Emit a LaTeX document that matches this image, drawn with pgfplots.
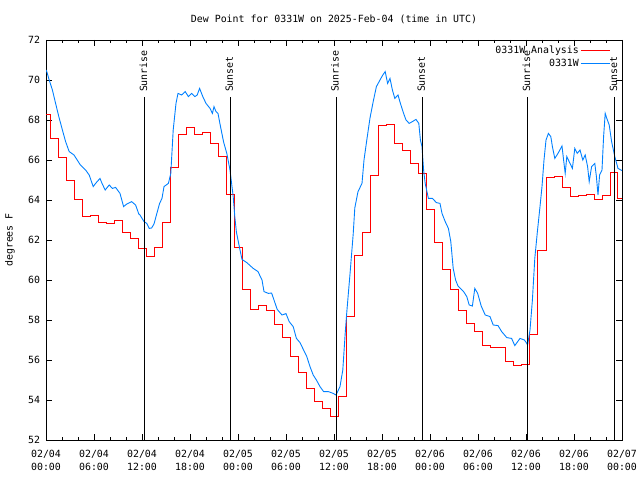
\documentclass[border=0pt]{standalone}
\usepackage{pgfplots}
\pgfplotsset{compat=1.18}
\usepackage{fontspec}
\setmainfont{DejaVu Sans Mono}
\definecolor{anared}{RGB}{255,0,0}
\definecolor{obsblue}{RGB}{0,128,255}
\begin{document}
\fontsize{9.9bp}{13bp}\selectfont
\begin{tikzpicture}
\path[use as bounding box] (-46bp,-40bp) rectangle (594bp,440bp);
\begin{axis}[
  at={(0,0)}, anchor=south west,
  scale only axis, width=576bp, height=400bp,
  xmin=0, xmax=72, ymin=52, ymax=72,
  axis line style={line width=0.8bp},
  xtick={0,6,...,72},
  xticklabels={02/04\\00:00,02/04\\06:00,02/04\\12:00,02/04\\18:00,02/05\\00:00,02/05\\06:00,02/05\\12:00,02/05\\18:00,02/06\\00:00,02/06\\06:00,02/06\\12:00,02/06\\18:00,02/07\\00:00},
  minor x tick num=2,
  ytick={52,54,...,72},
  tick align=inside,
  major tick length=6bp, minor tick length=3bp,
  tick style={line width=0.8bp, black},
  xticklabel style={align=center, yshift=-6.5bp},
  yticklabel style={xshift=-2.5bp},
  /pgf/number format/assume math mode=true,
  ylabel={degrees F},
  every axis y label/.style={at={(axis description cs:-0.0625,0.5)},rotate=90,anchor=center},
  title={Dew Point for 0331W on 2025-Feb-04 (time in UTC)},
  every axis title/.style={at={(axis description cs:0.5,1.0525)},anchor=center},
  legend plot pos=right,
  legend cell align=right,
  legend image code/.code={\draw[#1] (4bp,0bp) -- (33bp,0bp);},
  legend style={draw=none, fill=none, at={(rel axis cs:0.98,0.99)}, anchor=north east,
    inner sep=0pt, row sep=1.5bp, nodes={inner sep=1.5bp}},
]
\addplot[anared, line width=0.9bp, const plot] coordinates {
(0,68.3) (0.6,67.1) (1.55,66.13) (2.6,65.0) (3.55,64.03) (4.6,63.2) (5.6,63.25) (6.6,62.9)
(7.6,62.83) (8.6,63.0) (9.6,62.38) (10.6,62.08) (11.6,61.58) (12.6,61.2) (13.6,61.65) (14.6,62.88)
(15.6,65.63) (16.6,67.27) (17.6,67.62) (18.55,67.3) (19.6,67.37) (20.6,66.83) (21.5,66.2) (22.6,64.3)
(23.55,61.65) (24.6,59.53) (25.6,58.53) (26.5,58.75) (27.6,58.47) (28.6,57.8) (29.6,57.13) (30.6,56.2)
(31.6,55.38) (32.6,54.58) (33.6,53.95) (34.6,53.58) (35.6,53.2) (36.5,54.2) (37.6,58.2) (38.6,61.25)
(39.6,62.38) (40.5,65.25) (41.6,67.75) (42.6,67.8) (43.5,66.83) (44.6,66.5) (45.5,65.83) (46.5,65.33)
(47.5,63.53) (48.5,61.88) (49.5,60.53) (50.5,59.55) (51.5,58.5) (52.5,57.83) (53.5,57.45) (54.6,56.75)
(55.5,56.63) (56.5,56.63) (57.4,55.92) (58.4,55.75) (59.4,55.8) (60.4,57.28) (61.4,61.48) (62.5,65.15)
(63.5,65.2) (64.5,64.63) (65.5,64.17) (66.5,64.22) (67.6,64.28) (68.5,64.05) (69.5,64.22) (70.5,65.37)
(71.4,64.07) (72,64.07)
};
\addlegendentry{0331W Analysis}
\addplot[obsblue, line width=0.9bp] coordinates {
(0.0,70.5) (0.1,70.42) (0.4,70.0) (0.8,69.5) (1.2,68.83) (1.6,68.17) (2.05,67.5) (2.45,66.92)
(2.9,66.42) (3.5,66.25) (3.9,66.0) (4.3,65.75) (4.95,65.5) (5.4,65.25) (5.9,64.67) (6.2,64.83)
(6.75,65.08) (7.0,64.83) (7.4,64.5) (7.9,64.75) (8.3,64.58) (8.7,64.63) (9.25,64.33) (9.7,63.67)
(10.1,63.8) (10.7,63.92) (11.2,63.75) (11.6,63.3) (11.75,63.25) (12.25,62.92) (12.6,62.83) (12.9,62.58)
(13.2,62.6) (13.5,62.8) (13.75,63.17) (14.2,63.83) (14.5,64.08) (14.75,64.67) (15.3,64.83) (15.6,65.33)
(15.9,67.5) (16.25,68.83) (16.5,69.33) (16.95,69.25) (17.4,69.42) (17.8,69.17) (18.2,69.33) (18.6,69.17)
(18.9,69.25) (19.2,69.58) (19.6,69.17) (20.0,68.83) (20.5,68.58) (20.8,68.33) (21.0,68.67) (21.25,68.42)
(21.5,68.33) (21.75,67.8) (22.2,66.9) (22.6,66.33) (23.0,65.5) (23.2,64.83) (23.4,64.17) (23.6,63.17)
(23.8,62.4) (24.2,61.6) (24.5,61.03) (25.1,60.87) (25.9,60.58) (26.5,60.42) (27.0,60.0) (27.25,59.42)
(27.8,59.33) (28.2,59.35) (28.5,59.0) (28.9,58.53) (29.5,58.25) (30.0,58.32) (30.4,57.92) (30.9,57.67)
(31.3,57.08) (31.75,56.87) (32.2,56.5) (32.6,56.17) (33.0,55.67) (33.4,55.25) (33.8,55.0) (34.25,54.67)
(34.7,54.42) (35.3,54.42) (35.9,54.33) (36.25,54.25) (36.75,54.67) (37.1,55.5) (37.4,57.33) (37.6,58.4)
(38.0,60.3) (38.4,62.3) (38.6,63.6) (39.0,64.42) (39.5,64.83) (39.75,66.0) (40.1,67.0) (40.5,68.1)
(40.9,68.92) (41.3,69.67) (41.75,70.0) (42.1,70.25) (42.4,70.42) (42.7,69.83) (43.0,70.08) (43.3,69.5)
(43.6,69.08) (44.0,69.25) (44.3,68.83) (44.7,68.33) (45.0,68.0) (45.4,67.83) (45.8,67.92) (46.25,68.03)
(46.6,67.83) (46.8,67.0) (47.0,66.67) (47.2,65.5) (47.4,64.83) (47.8,64.08) (48.3,64.08) (48.8,63.87)
(49.25,63.83) (49.5,63.33) (49.9,62.92) (50.3,62.58) (50.6,61.92) (50.9,60.58) (51.2,60.0) (51.5,59.7)
(52.2,59.42) (52.6,59.17) (52.9,58.75) (53.3,58.7) (53.6,59.58) (53.96,59.33) (54.4,58.7) (54.9,58.25)
(55.5,58.17) (55.9,57.75) (56.5,57.72) (56.96,57.42) (57.6,57.12) (58.2,57.08) (58.6,56.72) (59.25,57.08)
(59.8,57.0) (60.1,56.83) (60.2,56.75) (60.5,57.5) (60.8,59.0) (61.1,61.08) (61.4,62.33) (61.75,63.67)
(62.0,64.67) (62.25,66.0) (62.5,67.0) (62.8,67.33) (63.1,67.17) (63.3,66.67) (63.6,66.08) (64.0,66.33)
(64.5,66.7) (64.7,66.0) (64.9,65.33) (65.1,66.17) (65.5,65.83) (65.8,65.58) (66.1,66.58) (66.4,66.33)
(66.75,66.5) (67.1,66.0) (67.4,66.25) (67.7,65.67) (67.9,64.92) (68.2,65.67) (68.6,65.83) (68.8,65.17)
(69.0,64.25) (69.2,65.25) (69.5,65.5) (69.7,67.17) (69.9,68.33) (70.1,68.08) (70.4,67.75) (70.7,66.92)
(71.1,66.17) (71.5,65.58) (72.0,65.47)
};
\addlegendentry{0331W}
\addplot[black, line width=1bp, forget plot] coordinates {(12.29,52) (12.29,69.15)};
\addplot[black, line width=1bp, forget plot] coordinates {(23.04,52) (23.04,69.15)};
\addplot[black, line width=1bp, forget plot] coordinates {(36.25,52) (36.25,69.15)};
\addplot[black, line width=1bp, forget plot] coordinates {(47.04,52) (47.04,69.15)};
\addplot[black, line width=1bp, forget plot] coordinates {(60.17,52) (60.17,69.15)};
\addplot[black, line width=1bp, forget plot] coordinates {(71.08,52) (71.08,69.15)};
\node[rotate=90, anchor=west, xshift=1.5bp, yshift=1bp] at (axis cs:12.29,69.15) {Sunrise};
\node[rotate=90, anchor=west, xshift=1.5bp, yshift=1bp] at (axis cs:23.04,69.15) {Sunset};
\node[rotate=90, anchor=west, xshift=1.5bp, yshift=1bp] at (axis cs:36.25,69.15) {Sunrise};
\node[rotate=90, anchor=west, xshift=1.5bp, yshift=1bp] at (axis cs:47.04,69.15) {Sunset};
\node[rotate=90, anchor=west, xshift=1.5bp, yshift=1bp] at (axis cs:60.17,69.15) {Sunrise};
\node[rotate=90, anchor=west, xshift=1.5bp, yshift=1bp] at (axis cs:71.08,69.15) {Sunset};
\end{axis}
\end{tikzpicture}
\end{document}
